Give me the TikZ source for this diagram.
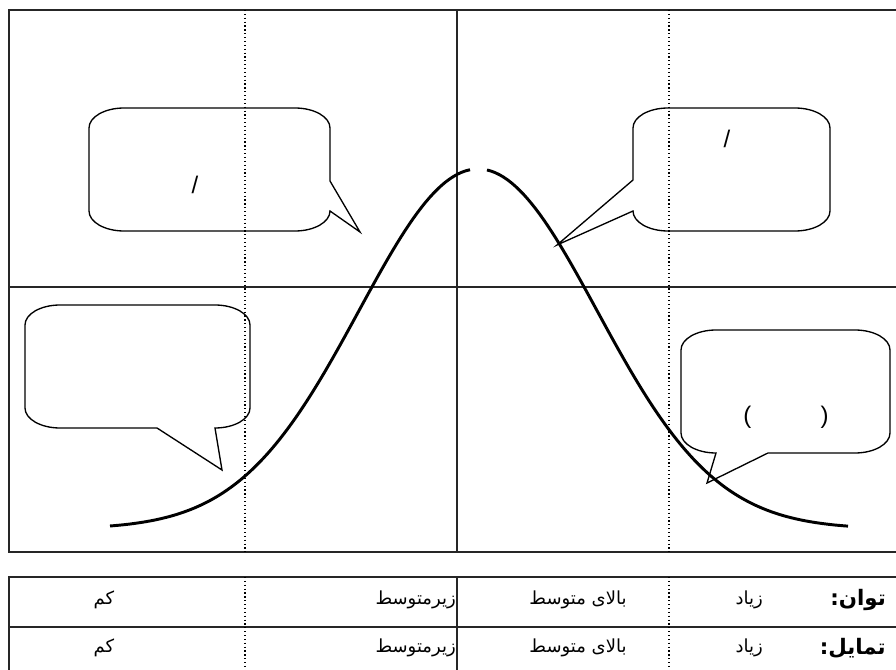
\documentclass[tikz,border=0pt]{standalone}
\usepackage{fontspec}
\setmainfont{Liberation Sans}
\newfontfamily\farsi[Script=Arabic]{DejaVu Sans}
\TeXXeTstate=1
\usetikzlibrary{positioning}

\begin{document}
\begin{tikzpicture}[x=0.75pt,y=-0.75pt,frame/.style={draw=black!85,line width=1.3pt},guide/.style={dotted,line width=0.9pt},bell/.style={line width=2.2pt,line join=round},bubble/.style={draw,line width=1pt,x radius=35,y radius=20},note/.style={font=\fontsize{18}{20}\selectfont,inner sep=0pt},fa/.style={font=\farsi\fontsize{13.5}{15}\selectfont,inner sep=0pt},fab/.style={font=\farsi\bfseries\fontsize{16}{18}\selectfont,inner sep=0pt}]
\useasboundingbox (0,0) rectangle (896,670);
% chart frame and quarters
\draw[frame] (896,10) -- (9,10) -- (9,552) -- (896,552);
\draw[frame] (9,287) -- (896,287);
\draw[frame] (457,10) -- (457,552);
\draw[guide] (245,10) -- (245,552);
\draw[guide] (669,10) -- (669,552);
% bell curve
\draw[bell] plot[domain=110:470,samples=90] (\x,{529-360*exp(-0.5*((\x-478)/119)^2)});
\draw[bell] plot[domain=487:848,samples=90] (\x,{529-360*exp(-0.5*((\x-478)/119)^2)});
% callouts
\draw[bubble] (330,181) -- (330,128) arc[start angle=0,end angle=-90] -- (124,108) arc[start angle=270,end angle=180] -- (89,211) arc[start angle=180,end angle=90] -- (295,231) arc[start angle=90,end angle=0] -- (360,232) -- cycle;
\draw[bubble] (633,180) -- (633,128) arc[start angle=180,end angle=270] -- (795,108) arc[start angle=270,end angle=360] -- (830,211) arc[start angle=0,end angle=90] -- (668,231) arc[start angle=90,end angle=180] -- (557,245) -- cycle;
\draw[bubble] (157,428) -- (60,428) arc[start angle=90,end angle=180] -- (25,325) arc[start angle=180,end angle=270] -- (215,305) arc[start angle=270,end angle=360] -- (250,408) arc[start angle=0,end angle=90] -- (222,470) -- cycle;
\draw[bubble] (768,453) -- (855,453) arc[start angle=90,end angle=0] -- (890,350) arc[start angle=0,end angle=-90] -- (716,330) arc[start angle=270,end angle=180] -- (681,433) arc[start angle=180,end angle=90] -- (707,483) -- cycle;
\node[note] (slashL) at (195,185) {/};
\node[note] (slashR) at (727,139) {/};
\node[note] (paren) at (786,417) {(\hspace{52pt})};
% table
\draw[frame] (896,577) -- (9,577) -- (9,670);
\draw[frame] (9,627) -- (896,627);
\draw[frame] (457,577) -- (457,670);
\draw[guide] (245,577) -- (245,670);
\draw[guide] (669,577) -- (669,670);
\node[fab,anchor=east] (tavan) at (886,600) {\beginR توان:\endR};
\node[fa,anchor=east] (ziadA) at (763,600) {\beginR زیاد\endR};
\node[fa] (balaA) at (578,600) {\beginR بالای متوسط\endR};
\node[fa,anchor=east] (zirA) at (456,600) {\beginR زیرمتوسط\endR};
\node[fa] (kamA) at (104,600) {\beginR کم\endR};
\node[fab,anchor=east] (tamayol) at (886,648) {\beginR تمایل:\endR};
\node[fa,anchor=east] (ziadB) at (763,648) {\beginR زیاد\endR};
\node[fa] (balaB) at (578,648) {\beginR بالای متوسط\endR};
\node[fa,anchor=east] (zirB) at (456,648) {\beginR زیرمتوسط\endR};
\node[fa] (kamB) at (104,648) {\beginR کم\endR};
\end{tikzpicture}
\end{document}
